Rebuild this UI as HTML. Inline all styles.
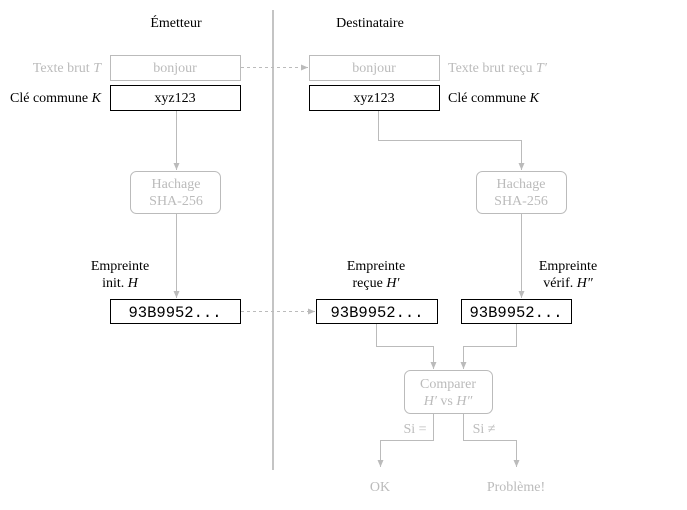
<!DOCTYPE html>
<html><head><meta charset="utf-8"><style>
html,body{margin:0;padding:0;background:#fff;width:687px;height:510px;overflow:hidden}
text{font-family:"Liberation Serif",serif;font-size:14px}
.g{fill:#bbb}.k{fill:#000}
.m{font-family:"Liberation Mono",monospace;font-size:15.5px}
</style></head><body>
<svg width="687" height="510" xmlns="http://www.w3.org/2000/svg">
<defs><marker id="a" markerWidth="8" markerHeight="8" refX="7" refY="4" orient="auto" markerUnits="userSpaceOnUse"><path d="M0,1 L7,4 L0,7 Z" fill="#bbb"/></marker></defs>
<line x1="273" y1="10" x2="273" y2="470" stroke="#c4c4c4" stroke-width="2"/>
<text x="176" y="27" text-anchor="middle" class="k">Émetteur</text>
<text x="370" y="27" text-anchor="middle" class="k">Destinataire</text>
<g fill="#fff" stroke-width="1">
<rect x="110.5" y="55.5" width="130" height="25" stroke="#bbb"/>
<rect x="110.5" y="85.5" width="130" height="25" stroke="#000"/>
<rect x="309.5" y="55.5" width="130" height="25" stroke="#bbb"/>
<rect x="309.5" y="85.5" width="130" height="25" stroke="#000"/>
<rect x="130.5" y="171.5" width="90" height="42" rx="6" stroke="#bbb"/>
<rect x="476.5" y="171.5" width="90" height="42" rx="6" stroke="#bbb"/>
<rect x="110.5" y="299.5" width="130" height="24" stroke="#000"/>
<rect x="316.5" y="299.5" width="121" height="24" stroke="#000"/>
<rect x="461.5" y="299.5" width="110" height="24" stroke="#000"/>
<rect x="404.5" y="370.5" width="88" height="43" rx="6" stroke="#bbb"/>
</g>
<g stroke="#bbb" fill="none">
<line x1="241" y1="67.5" x2="308" y2="67.5" stroke-dasharray="3,3" marker-end="url(#a)"/>
<line x1="241" y1="311.5" x2="315" y2="311.5" stroke-dasharray="3,3" marker-end="url(#a)"/>
<line x1="176.5" y1="111" x2="176.5" y2="170" marker-end="url(#a)"/>
<polyline points="378.5,111 378.5,140.5 521.5,140.5 521.5,170" marker-end="url(#a)"/>
<line x1="176.5" y1="214" x2="176.5" y2="298" marker-end="url(#a)"/>
<line x1="521.5" y1="214" x2="521.5" y2="298" marker-end="url(#a)"/>
<polyline points="376.5,324 376.5,346.5 433.5,346.5 433.5,369" marker-end="url(#a)"/>
<polyline points="516.5,324 516.5,346.5 463.5,346.5 463.5,369" marker-end="url(#a)"/>
<polyline points="433.5,414 433.5,440.5 380.5,440.5 380.5,467" marker-end="url(#a)"/>
<polyline points="463.5,414 463.5,440.5 516.5,440.5 516.5,467" marker-end="url(#a)"/>
</g>
<text x="101" y="72" text-anchor="end" class="g">Texte brut <tspan font-style="italic">T</tspan></text>
<text x="101" y="102" text-anchor="end" class="k">Clé commune <tspan font-style="italic">K</tspan></text>
<text x="448" y="72" class="g">Texte brut reçu <tspan font-style="italic">T′</tspan></text>
<text x="448" y="102" class="k">Clé commune <tspan font-style="italic">K</tspan></text>
<text x="175" y="72" text-anchor="middle" class="g">bonjour</text>
<text x="175" y="102" text-anchor="middle" class="k">xyz123</text>
<text x="374" y="72" text-anchor="middle" class="g">bonjour</text>
<text x="374" y="102" text-anchor="middle" class="k">xyz123</text>
<text x="176" y="188" text-anchor="middle" class="g">Hachage</text>
<text x="176" y="205" text-anchor="middle" class="g">SHA-256</text>
<text x="521" y="188" text-anchor="middle" class="g">Hachage</text>
<text x="521" y="205" text-anchor="middle" class="g">SHA-256</text>
<text x="120" y="270" text-anchor="middle" class="k">Empreinte</text>
<text x="120" y="287" text-anchor="middle" class="k">init. <tspan font-style="italic">H</tspan></text>
<text x="376" y="270" text-anchor="middle" class="k">Empreinte</text>
<text x="376" y="287" text-anchor="middle" class="k">reçue <tspan font-style="italic">H′</tspan></text>
<text x="568" y="270" text-anchor="middle" class="k">Empreinte</text>
<text x="568" y="287" text-anchor="middle" class="k">vérif. <tspan font-style="italic">H″</tspan></text>
<text x="175" y="317" text-anchor="middle" class="k m">93B9952...</text>
<text x="377" y="317" text-anchor="middle" class="k m">93B9952...</text>
<text x="516" y="317" text-anchor="middle" class="k m">93B9952...</text>
<text x="448" y="388" text-anchor="middle" class="g">Comparer</text>
<text x="448" y="405" text-anchor="middle" class="g"><tspan font-style="italic">H′</tspan> vs <tspan font-style="italic">H″</tspan></text>
<text x="415" y="433" text-anchor="middle" class="g" font-size="11.5">Si =</text>
<text x="484" y="433" text-anchor="middle" class="g" font-size="11.5">Si ≠</text>
<text x="380" y="491" text-anchor="middle" class="g">OK</text>
<text x="516" y="491" text-anchor="middle" class="g">Problème!</text>
</svg>
</body></html>
